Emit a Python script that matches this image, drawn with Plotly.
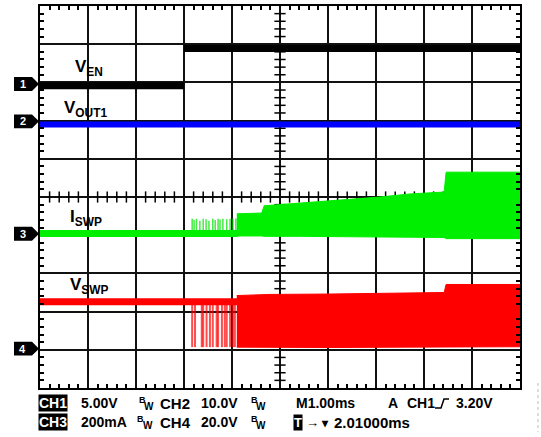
import numpy as np
import plotly.graph_objects as go

# ---------------- data (time in ms, vertical in scope divisions) ----------------
# CH1  V_EN
en_t = [0.0, 3.0, None, 3.0, 10.0]
en_v = [2.91, 2.91, None, 3.89, 3.89]

# CH2  V_OUT1
out_t = [0.0, 10.0]
out_v = [1.90, 1.90]

# CH3  I_SWP
isw_base_t = [0.0, 4.12]
isw_base_v = [-0.955, -0.955]
isw_spike_t = [3.17, 3.21, 3.26, 3.33, 3.40, 3.46, 3.52, 3.60, 3.65, 3.71, 3.75, 3.81, 3.89, 3.96, 4.02, 4.08]
isw_spike_top = [-0.57, -0.60, -0.57, -0.62, -0.57, -0.58, -0.62, -0.57, -0.60, -0.57, -0.59, -0.57, -0.58, -0.57, -0.56, -0.56]
isw_env_t = [4.10, 4.62, 4.67, 5.42, 6.25, 7.08, 7.71, 8.42, 8.46, 10.0]
isw_env_top = [-0.44, -0.42, -0.23, -0.16, -0.08, 0.00, 0.08, 0.13, 0.65, 0.65]
isw_env_bot = [-1.02, -1.02, -1.03, -1.03, -1.04, -1.04, -1.05, -1.06, -1.09, -1.09]

# CH4  V_SWP
vsw_base_t = [0.0, 4.12]
vsw_base_v = [-2.74, -2.74]
vsw_spike_t = [3.17, 3.23, 3.37, 3.40, 3.47, 3.54, 3.60, 3.68, 3.71, 3.79, 3.85, 3.89, 3.96, 4.02, 4.06]
vsw_spike_bot = [-3.93] * 15
vsw_env_t = [4.10, 4.79, 6.04, 7.50, 8.42, 8.46, 10.0]
vsw_env_top = [-2.58, -2.55, -2.54, -2.52, -2.50, -2.29, -2.29]
vsw_env_bot = [-3.93, -3.94, -3.94, -3.93, -3.93, -3.92, -3.92]

# channel ground markers
ch_names = ["1", "2", "3", "4"]
ch_levels = [2.96, 1.98, -0.96, -3.97]

# trace labels: (html text, t of left edge, level)
trace_labels = [("V<sub>EN</sub>", 0.69, 3.38),
                ("V<sub>OUT1</sub>", 0.46, 2.30),
                ("I<sub>SWP</sub>", 0.58, -0.55),
                ("V<sub>SWP</sub>", 0.58, -2.34)]

BLACK = "#000000"
BLUE = "#0000ff"
GREEN = "#00ee00"
RED = "#ff0000"
FONT = "Liberation Sans"

# plot-area geometry in pixels (for text below the graticule)
L, R, T, B = 40, 520, 4, 388


def px_x(px):
    return (px - L) / (R - L)


def px_y(py):
    return (B - py) / (B - T)


def spikes(ts, y0, y1s):
    xs, ys = [], []
    for t, y1 in zip(ts, y1s):
        xs += [t, t, None]
        ys += [y0, y1, None]
    return xs, ys


fig = go.Figure()

# centre cross-hair minor ticks
minor = [v for v in np.round(np.arange(-5, 5.001, 0.2), 2) if abs(v - round(v)) > 1e-6]
minor_x = [v for v in np.round(np.arange(0, 10.001, 0.2), 2) if abs(v - round(v)) > 1e-6]
fig.add_trace(go.Scatter(x=[5] * len(minor), y=minor, mode="markers", hoverinfo="skip",
                         marker=dict(symbol="line-ew", size=8, line=dict(width=1.5, color=BLACK))))
fig.add_trace(go.Scatter(x=minor_x, y=[0] * len(minor_x), mode="markers", hoverinfo="skip",
                         marker=dict(symbol="line-ns", size=8, line=dict(width=1.5, color=BLACK))))

# CH1
fig.add_trace(go.Scatter(x=en_t, y=en_v, mode="lines", line=dict(color=BLACK, width=7)))
# CH2
fig.add_trace(go.Scatter(x=out_t, y=out_v, mode="lines", line=dict(color=BLUE, width=6)))

# CH3
sx, sy = spikes(isw_spike_t, isw_base_v[0], isw_spike_top)
fig.add_trace(go.Scatter(x=sx, y=sy, mode="lines", line=dict(color="rgba(0,230,0,0.75)", width=1.5)))
fig.add_trace(go.Scatter(x=isw_base_t, y=isw_base_v, mode="lines", line=dict(color=GREEN, width=7)))
fig.add_trace(go.Scatter(x=isw_env_t + isw_env_t[::-1], y=isw_env_top + isw_env_bot[::-1],
                         mode="lines", fill="toself", fillcolor=GREEN, line=dict(color=GREEN, width=1)))

# CH4
sx, sy = spikes(vsw_spike_t, vsw_base_v[0], vsw_spike_bot)
fig.add_trace(go.Scatter(x=sx, y=sy, mode="lines", line=dict(color="rgba(255,0,0,0.7)", width=2)))
fig.add_trace(go.Scatter(x=vsw_base_t, y=vsw_base_v, mode="lines", line=dict(color=RED, width=7)))
fig.add_trace(go.Scatter(x=vsw_env_t + vsw_env_t[::-1], y=vsw_env_top + vsw_env_bot[::-1],
                         mode="lines", fill="toself", fillcolor=RED, line=dict(color=RED, width=1)))

axis_common = dict(showgrid=True, gridcolor="#111111", gridwidth=1.5, zeroline=False,
                   showline=True, linecolor=BLACK, linewidth=2, mirror="allticks",
                   ticks="", showticklabels=False, tick0=0, dtick=1, fixedrange=True,
                   minor=dict(dtick=0.2, ticks="inside", ticklen=4, tickwidth=1.5,
                              tickcolor=BLACK, showgrid=False))

fig.update_layout(
    width=541, height=437,
    margin=dict(l=L, r=541 - R, t=T, b=437 - B),
    paper_bgcolor="white", plot_bgcolor="white",
    showlegend=False,
    xaxis=dict(range=[0, 10], **axis_common),
    yaxis=dict(range=[-5, 5], **axis_common),
)

shapes = []
annots = []

# channel markers
h = 7 / 38.4
x0, x1, x2 = px_x(14), px_x(32), px_x(39)
for name, lev in zip(ch_names, ch_levels):
    shapes.append(dict(type="path", xref="paper", yref="y",
                       path=f"M {x0},{lev - h} L {x1},{lev - h} L {x2},{lev} L {x1},{lev + h} L {x0},{lev + h} Z",
                       fillcolor=BLACK, line=dict(width=0)))
    annots.append(dict(text=name, xref="paper", yref="y", x=px_x(22.5), y=lev, showarrow=False,
                       xanchor="center", yanchor="middle",
                       font=dict(family=FONT, size=11, color="white", weight="bold")))

for txt, t, lev in trace_labels:
    annots.append(dict(text=txt, xref="x", yref="y", x=t, y=lev, showarrow=False,
                       xanchor="left", yanchor="middle",
                       font=dict(family=FONT, size=17, color=BLACK, weight="bold")))


def text(s, px, py, size=14, color=BLACK, bg=None, anchor="left"):
    a = dict(text=s, xref="paper", yref="paper", x=px_x(px), y=px_y(py), showarrow=False,
             xanchor=anchor, yanchor="middle",
             font=dict(family=FONT, size=size, color=color, weight="bold"))
    if bg:
        a.update(bgcolor=bg, borderpad=0)
    annots.append(a)


Y1, Y2 = 403.5, 422.5
# line 1
text("CH1", 53, Y1, size=14, color="white", bg=BLACK, anchor="center")
text("5.00V", 79, Y1)
text("B", 137, Y1 - 3, size=9)
text("W", 142, Y1 + 3, size=10)
text("CH2", 158, Y1, size=15)
text("10.0V", 199, Y1)
text("B", 249, Y1 - 3, size=9)
text("W", 254, Y1 + 3, size=10)
text("M1.00ms", 294, Y1)
text("A", 386, Y1)
text("CH1", 405, Y1)
text("3.20V", 454, Y1)
# line 2
text("CH3", 53, Y2, size=14, color="white", bg=BLACK, anchor="center")
text("200mA", 79, Y2)
text("B", 135, Y2 - 3, size=9)
text("W", 141, Y2 + 3, size=10)
text("CH4", 158, Y2, size=15)
text("20.0V", 199, Y2)
text("B", 249, Y2 - 3, size=9)
text("W", 254, Y2 + 3, size=10)
text("T", 297.5, Y2, size=13, color="white", bg=BLACK, anchor="center")
text("→", 304, Y2, size=13)
text("▾", 319, Y2 + 1, size=12)
text("2.01000ms", 332, Y2, size=15)

# rising-edge trigger glyph
shapes.append(dict(type="path", xref="paper", yref="paper",
                   path=(f"M {px_x(435)},{px_y(408)} L {px_x(441)},{px_y(408)} "
                         f"L {px_x(444)},{px_y(399)} L {px_x(449)},{px_y(399)}"),
                   line=dict(color=BLACK, width=1.5)))
# faint dotted line at right edge
shapes.append(dict(type="line", xref="paper", yref="paper",
                   x0=px_x(538), x1=px_x(538), y0=px_y(383), y1=px_y(432),
                   line=dict(color="#bbbbbb", width=1, dash="dot")))

fig.update_layout(shapes=shapes, annotations=annots)
fig.write_html("out.html", config={"displayModeBar": False},
               post_script="document.body.style.margin='0';document.body.style.overflow='hidden';")
